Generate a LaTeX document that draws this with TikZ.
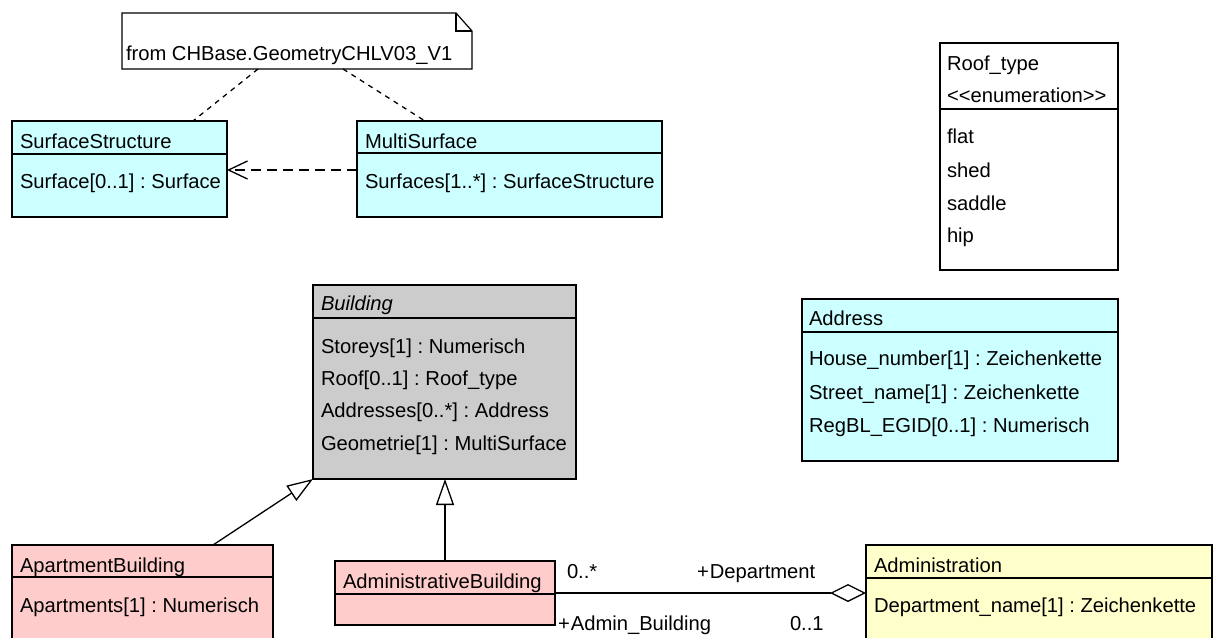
\documentclass[tikz,border=0pt]{standalone}
\usepackage{fontspec}
\setmainfont{Liberation Sans}
\usetikzlibrary{arrows.meta}
\definecolor{cyanbox}{HTML}{CCFFFF}
\definecolor{pinkbox}{HTML}{FFCCCC}
\definecolor{yellowbox}{HTML}{FFFFCC}
\definecolor{greybox}{HTML}{CCCCCC}
\frenchspacing
\begin{document}
\begin{tikzpicture}[x=1pt,y=-1pt,
  box/.style={draw=black, line width=1.4pt, anchor=north west, inner sep=0pt, outer sep=0pt},
  txt/.style={anchor=base west, inner sep=0pt, outer sep=0pt, font=\fontsize{20.2}{24}\selectfont},
  div/.style={line width=1.2pt},
  conn/.style={line width=1.3pt},
  notedash/.style={conn, dash pattern=on 5pt off 5pt},
  depdash/.style={conn, dash pattern=on 10pt off 6pt},
  gen/.style={conn, -{Triangle[open, fill=white, length=26pt, width=18pt]}},
  dep/.style={depdash, -{Straight Barb[length=19pt, width=18pt]}},
  agg/.style={conn, -{Diamond[open, fill=white, length=36pt, width=18pt]}}
]
\useasboundingbox (0,0) rectangle (1214,637);
\clip (0,0) rectangle (1214,637);

% note
\node[anchor=north west, minimum width=350pt, minimum height=56pt, inner sep=0pt, outer sep=0pt] (note) at (122,13) {};
\draw[line width=1.2pt, fill=white] (122,13) -- (456,13) -- (472,31) -- (472,69) -- (122,69) -- cycle;
\draw[line width=1.2pt] (456,13) -- (456,31) -- (472,31);
\node[txt] (notetxt) at (126,60) {from CHBase.GeometryCHLV03\_V1};

% SurfaceStructure
\node[box, fill=cyanbox, minimum width=215pt, minimum height=96pt] (ss) at (12,121) {};
\draw[div] ([yshift=-33pt]ss.north west) -- ([yshift=-33pt]ss.north east);
\node[txt] (sst) at (20,148) {SurfaceStructure};
\node[txt] (ssa) at (20,188) {Surface[0..1] : Surface};

% MultiSurface
\node[box, fill=cyanbox, minimum width=305pt, minimum height=96pt] (ms) at (357,121) {};
\draw[div] ([yshift=-32pt]ms.north west) -- ([yshift=-32pt]ms.north east);
\node[txt] (mst) at (365,148) {MultiSurface};
\node[txt] (msa) at (365,188) {Surfaces[1..*] : SurfaceStructure};

% Roof_type
\node[box, fill=white, minimum width=178pt, minimum height=227pt] (roof) at (940,43) {};
\draw[div] ([yshift=-66pt]roof.north west) -- ([yshift=-66pt]roof.north east);
\node[txt] (rt1) at (947,70) {Roof\_type};
\node[txt] (rt2) at (947,102) {<{}<enumeration>{}>};
\node[txt] (rt3) at (947,143) {flat};
\node[txt] (rt4) at (947,177) {shed};
\node[txt] (rt5) at (947,210) {saddle};
\node[txt] (rt6) at (947,242) {hip};

% Building
\node[box, fill=greybox, minimum width=263pt, minimum height=194pt] (bld) at (313,285) {};
\draw[div] ([yshift=-33pt]bld.north west) -- ([yshift=-33pt]bld.north east);
\node[txt] (bt) at (321,310) {\itshape Building};
\node[txt] (ba1) at (321,353) {Storeys[1] : Numerisch};
\node[txt] (ba2) at (321,385) {Roof[0..1] : Roof\_type};
\node[txt] (ba3) at (321,417) {Addresses[0..*] : Address};
\node[txt] (ba4) at (321,450) {Geometrie[1] : MultiSurface};

% Address
\node[box, fill=cyanbox, minimum width=316pt, minimum height=162pt] (addr) at (802,299) {};
\draw[div] ([yshift=-33pt]addr.north west) -- ([yshift=-33pt]addr.north east);
\node[txt] (at) at (809,325) {Address};
\node[txt] (aa1) at (809,365) {House\_number[1] : Zeichenkette};
\node[txt] (aa2) at (809,399) {Street\_name[1] : Zeichenkette};
\node[txt] (aa3) at (809,432) {RegBL\_EGID[0..1] : Numerisch};

% ApartmentBuilding
\node[box, fill=pinkbox, minimum width=261pt, minimum height=110pt] (apt) at (12,545) {};
\draw[div] ([yshift=-32pt]apt.north west) -- ([yshift=-32pt]apt.north east);
\node[txt] (apt1) at (20,572) {ApartmentBuilding};
\node[txt] (apt2) at (20,612) {Apartments[1] : Numerisch};

% AdministrativeBuilding
\node[box, fill=pinkbox, minimum width=220pt, minimum height=64pt] (adm) at (335,561) {};
\draw[div] ([yshift=-33pt]adm.north west) -- ([yshift=-33pt]adm.north east);
\node[txt] (admt) at (343,588) {AdministrativeBuilding};

% Administration
\node[box, fill=yellowbox, minimum width=346pt, minimum height=110pt] (admin) at (866,545) {};
\draw[div] ([yshift=-33pt]admin.north west) -- ([yshift=-33pt]admin.north east);
\node[txt] (adt) at (874,572) {Administration};
\node[txt] (ada) at (874,612) {Department\_name[1] : Zeichenkette};

% connectors
\draw[notedash] ([xshift=136pt]note.south west) -- ([xshift=181pt]ss.north west);
\draw[notedash] ([xshift=221pt]note.south west) -- ([xshift=68pt]ms.north west);
\draw[dep] ([yshift=-49pt]ms.north west) -- ([yshift=-49pt]ss.north east);
\draw[gen] ([xshift=201pt]apt.north west) -- (bld.south west);
\draw[gen] (adm.north) -- (adm.north |- bld.south);
\draw[agg] ([yshift=-32pt]adm.north east) -- ([yshift=-48pt]admin.north west);

% association labels
\node[txt] (m1) at (567,578) {0..*};
\node[txt] (r1) at (697,578) {+\kern1pt Department};
\node[txt] (r2) at (558,630) {+\kern1pt Admin\_Building};
\node[txt] (m2) at (790,630) {0..1};
\end{tikzpicture}
\end{document}
